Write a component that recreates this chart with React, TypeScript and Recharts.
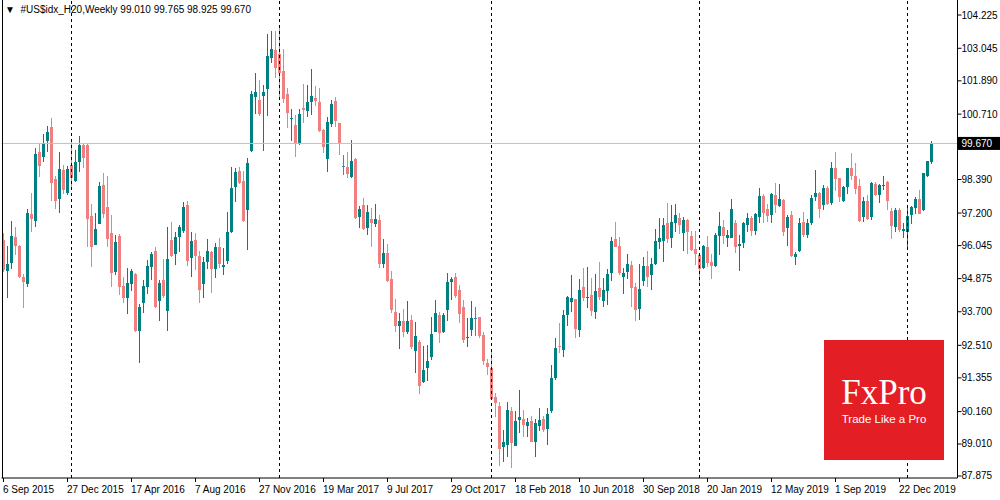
import { ComposedChart, Bar, XAxis, YAxis, ReferenceLine } from 'recharts'

// weekly candles, [open, high, low, close]
const CANDLES_2015 = [
  [96.25, 96.48, 95.12, 95.18], [95.16, 96.03, 94.2, 95.39], [95.42, 96.92, 95.2, 96.39], [96.36, 96.72, 95.71, 96.04],
  [96.04, 96.06, 94.89, 94.94], [94.94, 95.04, 93.85, 94.77], [94.7, 97.36, 94.59, 97.19], [97.17, 97.91, 96.52, 97.0],
  [96.93, 99.5, 96.72, 99.3], [99.37, 99.64, 98.49, 98.88], [99.2, 100.0, 99.02, 99.7], [99.77, 100.29, 99.38, 100.08],
  [100.25, 100.57, 97.63, 98.28], [98.41, 98.52, 97.33, 97.64], [97.71, 99.37, 97.21, 98.76], [98.73, 98.89, 97.86, 98.02],
  [97.92, 98.88, 97.84, 98.76],
]
const CANDLES_2016 = [
  [98.89, 99.79, 98.11, 98.43], [98.35, 99.44, 98.31, 99.01], [99.02, 99.93, 98.67, 99.61], [99.61, 99.64, 98.79, 99.14],
  [99.61, 99.64, 96.01, 96.98], [97.1, 97.52, 95.28, 95.99], [96.08, 97.19, 96.05, 96.64], [96.82, 98.3, 96.8, 98.16],
  [98.2, 98.61, 97.01, 97.18], [97.4, 98.52, 95.99, 96.27], [96.51, 97.13, 94.59, 95.06], [95.1, 96.42, 95.0, 96.16],
  [96.39, 96.46, 94.31, 94.59], [94.61, 94.94, 94.02, 94.2], [94.2, 95.26, 93.63, 94.71], [94.67, 95.2, 94.45, 95.15],
  [95.04, 95.09, 92.99, 93.02], [93.01, 93.96, 91.89, 93.87], [94.0, 94.83, 93.67, 94.61], [94.57, 95.54, 94.33, 95.32],
  [95.3, 95.81, 94.83, 95.75], [95.87, 96.01, 93.82, 93.88], [94.09, 94.83, 93.38, 94.73], [94.83, 95.58, 94.18, 94.27],
  [93.73, 96.69, 93.03, 95.57], [96.25, 96.9, 95.65, 95.68], [95.74, 96.54, 95.36, 96.34], [96.35, 96.78, 95.83, 96.69],
  [96.58, 97.61, 96.48, 97.43], [97.49, 97.63, 95.32, 95.51], [95.62, 96.52, 94.95, 96.21], [96.25, 96.48, 95.18, 95.68],
  [95.68, 95.87, 94.02, 94.47], [94.69, 95.63, 94.2, 95.47], [95.48, 96.27, 95.21, 95.86], [95.82, 95.87, 94.38, 95.22],
  [95.21, 96.13, 94.89, 95.99], [96.0, 96.3, 95.24, 95.39], [95.3, 95.95, 95.0, 95.37], [95.51, 97.25, 95.39, 96.53],
  [96.54, 98.85, 96.48, 98.1], [98.11, 98.8, 97.6, 98.66], [98.69, 98.85, 98.23, 98.28], [98.34, 98.69, 96.9, 96.92],
  [97.31, 99.17, 95.89, 98.96], [99.4, 101.54, 99.38, 101.42], [101.33, 102.16, 100.71, 101.51], [101.21, 101.92, 100.66, 100.7],
  [101.35, 101.73, 99.41, 101.49], [101.61, 103.55, 100.64, 102.77], [102.71, 103.65, 102.51, 103.03], [102.98, 103.65, 101.98, 102.36],
]
const CANDLES_2017 = [
  [102.84, 103.84, 101.26, 102.16], [102.25, 103.01, 101.09, 101.25], [101.42, 101.62, 100.23, 100.76], [100.54, 100.88, 99.77, 100.56],
  [100.32, 100.68, 99.2, 99.65], [99.65, 100.88, 99.61, 100.7], [100.94, 101.79, 100.38, 100.86], [100.83, 101.74, 100.62, 101.15],
  [101.15, 102.31, 100.68, 101.35], [101.28, 101.7, 101.0, 101.18], [101.14, 101.62, 100.09, 100.12], [100.15, 100.17, 99.34, 99.56],
  [99.13, 100.6, 98.67, 100.43], [100.35, 101.21, 100.24, 101.07], [101.18, 101.31, 100.27, 100.48], [100.4, 100.41, 99.26, 99.64],
  [98.88, 99.26, 98.55, 98.88], [98.82, 99.37, 98.43, 98.59], [98.47, 99.79, 98.43, 99.05], [99.12, 99.14, 96.98, 97.01],
  [97.07, 97.46, 96.68, 97.33], [97.49, 97.72, 96.6, 96.62], [96.68, 97.49, 96.42, 97.24], [96.98, 97.37, 96.01, 96.86],
  [96.81, 97.52, 96.72, 96.98], [96.95, 97.13, 95.24, 95.38], [95.39, 96.27, 95.24, 95.77], [95.77, 96.09, 94.75, 94.8],
  [94.85, 95.16, 93.67, 93.76], [93.69, 94.15, 92.99, 93.21], [93.21, 93.64, 92.38, 93.37], [93.37, 93.8, 92.82, 92.97],
  [92.99, 94.08, 92.91, 93.37], [93.41, 93.59, 92.38, 92.46], [92.32, 93.33, 91.54, 92.84], [92.63, 92.7, 90.78, 91.08],
  [91.22, 92.5, 91.19, 91.64], [91.72, 92.52, 91.26, 91.97], [92.11, 93.51, 91.99, 92.91], [92.99, 94.11, 92.97, 93.66],
  [93.59, 93.7, 92.6, 92.94], [92.97, 93.64, 92.94, 93.59], [93.76, 95.06, 93.38, 94.77], [94.77, 94.92, 94.12, 94.86],
  [94.93, 95.09, 94.18, 94.27], [94.47, 94.65, 93.29, 93.61], [93.87, 94.12, 92.58, 92.7], [92.78, 93.48, 92.44, 92.8],
  [93.05, 94.08, 92.84, 93.47], [93.49, 93.86, 92.84, 93.49], [93.5, 93.52, 92.76, 92.85], [92.88, 92.99, 91.81, 91.97],
  [91.89, 92.03, 91.46, 91.73],
]
const CANDLES_2018 = [
  [91.69, 92.38, 90.6, 90.61], [90.68, 90.81, 89.98, 90.45], [90.36, 90.51, 88.23, 88.83], [88.92, 89.51, 88.38, 89.07],
  [88.97, 90.49, 88.56, 90.22], [90.19, 90.33, 88.17, 89.03], [88.95, 90.19, 88.94, 89.83], [89.86, 90.93, 89.41, 89.98],
  [89.9, 90.22, 89.27, 89.68], [89.65, 89.94, 89.27, 89.79], [89.84, 90.02, 89.07, 89.08], [89.08, 89.9, 88.54, 89.77],
  [89.65, 90.3, 89.48, 89.86], [89.89, 90.02, 89.45, 89.51], [89.53, 90.3, 88.97, 90.06], [90.19, 91.81, 90.1, 91.35],
  [91.36, 92.77, 91.28, 92.41], [92.5, 93.3, 92.25, 92.46], [92.34, 93.76, 92.11, 93.59], [93.59, 94.26, 93.2, 94.22],
  [94.03, 95.0, 93.7, 94.18], [94.14, 94.16, 92.78, 93.09], [93.05, 94.85, 92.82, 94.47], [94.57, 95.25, 94.09, 94.19],
  [94.2, 95.28, 93.83, 94.22], [94.28, 94.9, 93.55, 93.73], [93.69, 95.04, 93.46, 94.44], [94.54, 95.47, 94.12, 94.24],
  [94.08, 94.89, 93.88, 94.47], [94.45, 95.23, 93.94, 95.04], [95.09, 96.34, 94.8, 96.21], [96.28, 96.88, 95.99, 96.01],
  [96.03, 96.34, 94.99, 95.09], [94.95, 95.25, 94.33, 95.06], [95.12, 95.74, 94.85, 95.39], [95.36, 95.51, 93.88, 94.56],
  [94.57, 94.73, 93.37, 93.76], [93.81, 95.39, 93.41, 94.51], [94.78, 95.65, 94.61, 95.32], [95.32, 95.86, 94.59, 94.95],
  [95.02, 95.62, 94.47, 95.39], [95.39, 96.65, 95.37, 96.21], [96.19, 97.01, 95.91, 96.33], [96.22, 97.01, 95.48, 96.79],
  [96.86, 97.57, 96.13, 96.28], [96.33, 97.49, 95.97, 96.88], [96.86, 97.51, 96.52, 97.13], [97.01, 97.21, 96.45, 96.79],
  [96.48, 97.07, 95.86, 96.95], [96.95, 96.98, 95.75, 96.54], [96.39, 96.56, 95.86, 95.89], [95.93, 96.56, 95.36, 95.75],
]
const CANDLES_2019 = [
  [95.71, 95.73, 94.61, 95.22], [95.26, 96.07, 95.21, 96.03], [95.99, 96.39, 95.3, 95.44], [95.47, 95.74, 94.87, 95.32],
  [95.32, 96.51, 95.3, 96.42], [96.4, 97.24, 95.71, 96.74], [96.72, 96.96, 96.12, 96.4], [96.33, 96.59, 95.99, 96.42],
  [96.33, 97.7, 96.3, 97.33], [96.86, 96.96, 95.8, 96.01], [96.04, 96.42, 95.16, 96.1], [96.15, 96.9, 95.97, 96.86],
  [96.78, 97.19, 96.54, 97.03], [97.04, 97.1, 96.39, 96.56], [96.56, 97.19, 96.41, 97.16], [97.07, 98.09, 96.84, 97.81],
  [97.82, 97.88, 96.86, 97.21], [97.36, 97.52, 96.9, 97.1], [97.12, 97.9, 96.84, 97.88], [97.84, 98.26, 97.19, 97.47],
  [97.45, 98.23, 97.43, 97.7], [97.66, 97.69, 96.4, 96.54], [96.67, 97.13, 96.03, 97.05], [97.14, 97.27, 95.65, 95.69],
  [95.63, 95.83, 95.36, 95.75], [95.87, 97.04, 95.83, 96.85], [96.88, 97.24, 96.34, 96.42], [96.43, 97.0, 96.33, 96.85],
  [96.84, 97.84, 96.78, 97.75], [97.76, 98.73, 97.64, 97.9], [97.92, 97.94, 97.01, 97.36], [97.49, 98.18, 97.31, 98.09],
  [98.09, 98.16, 97.49, 97.53], [97.55, 99.01, 97.49, 98.8], [98.8, 99.37, 97.98, 98.4], [98.44, 98.46, 97.61, 97.78],
  [97.63, 98.16, 97.59, 98.13], [98.13, 98.81, 97.88, 98.8], [98.8, 99.32, 98.37, 98.52], [98.52, 98.96, 97.88, 98.04],
  [98.16, 98.4, 96.9, 96.92], [97.07, 97.76, 96.9, 97.63], [97.63, 97.84, 96.95, 97.0], [97.07, 98.3, 96.95, 98.26],
  [98.22, 98.31, 97.82, 97.84], [97.84, 98.22, 97.57, 98.2], [98.16, 98.52, 98.02, 98.2], [98.29, 98.34, 97.31, 97.64],
  [97.27, 97.37, 96.28, 96.74], [96.72, 97.37, 96.52, 97.31], [97.31, 97.39, 96.52, 96.6], [96.58, 96.84, 96.3, 96.65],
]
const CANDLES_2020 = [
  [96.54, 97.43, 96.0, 97.1], [97.13, 97.45, 96.8, 97.4], [97.39, 97.76, 97.17, 97.7], [97.69, 98.02, 97.15, 97.17],
  [97.31, 98.63, 97.29, 98.61], [98.52, 99.06, 98.49, 99.03], [99.01, 99.765, 98.925, 99.67],
]

const FLAT_BARS = [85, 118] // open == close, drawn in the line colour
const YEAR_STARTS = [17, 69, 122, 174, 226]
const X_LABELS = [
  '6 Sep 2015', '27 Dec 2015', '17 Apr 2016', '7 Aug 2016', '27 Nov 2016', '19 Mar 2017', '9 Jul 2017', '29 Oct 2017',
  '18 Feb 2018', '10 Jun 2018', '30 Sep 2018', '20 Jan 2019', '12 May 2019', '1 Sep 2019', '22 Dec 2019',
]
const PRICE_TICKS = [104.225, 103.045, 101.89, 100.71, 99.67, 98.39, 97.2, 96.045, 94.875, 93.7, 92.51, 91.355, 90.16, 89.01, 87.875]
const LAST_PRICE = 99.67
const EMPTY_BARS = 6

const candles = [...CANDLES_2015, ...CANDLES_2016, ...CANDLES_2017, ...CANDLES_2018, ...CANDLES_2019, ...CANDLES_2020].map(
  ([open, high, low, close], i) => ({ i, open, high, low, close })
)
const data: any[] = [...candles]
for (let k = 0; k < EMPTY_BARS; k++) data.push({ i: candles.length + k })

const FONT = "'Liberation Sans', Arial, sans-serif"
const UP = '#008080'
const DOWN = '#f08080'

function Candle(props: any) {
  const { x, width, y, height, payload } = props
  if (!payload || payload.high == null || height == null) return null
  const { open, high, low, close, i } = payload
  const top = Math.min(y, y + height)
  const h = Math.abs(height)
  const py = (v: number) => top + ((high - v) / (high - low)) * h
  const cx = Math.floor(x + width / 2)
  const color = FLAT_BARS.includes(i) ? '#4682b4' : close >= open ? UP : DOWN
  const bTop = Math.round(py(Math.max(open, close)))
  const bBot = Math.round(py(Math.min(open, close)))
  const wTop = Math.round(top)
  const wBot = Math.round(top + h)
  return (
    <g>
      <rect x={cx} y={wTop} width={1} height={Math.max(1, wBot - wTop)} fill={color} />
      <rect x={cx - 1} y={bTop} width={3} height={Math.max(1, bBot - bTop)} fill={color} />
    </g>
  )
}

function TimeTick(props: any) {
  const { x, y, payload } = props
  const label = X_LABELS[payload.value / 16]
  if (!label) return null
  return (
    <text x={x - 0.5} y={y + 9} fontSize={10} fontFamily={FONT} fill="#000">
      {label}
    </text>
  )
}

function PriceTick(props: any) {
  const { x, y, payload } = props
  if (payload.value === LAST_PRICE) {
    return (
      <g>
        <rect x={958} y={y - 6.5} width={42} height={13} fill="#000" />
        <text x={x} y={y} fontSize={10} fontFamily={FONT} fill="#fff" dominantBaseline="central">
          {payload.value.toFixed(3)}
        </text>
      </g>
    )
  }
  return (
    <text x={x} y={y} fontSize={10} fontFamily={FONT} fill="#000" dominantBaseline="central">
      {payload.value.toFixed(3)}
    </text>
  )
}

export default function App() {
  return (
    <div style={{ position: 'relative', width: 1000, height: 500, background: '#fff' }}>
      <style>{'body{margin:0}'}</style>
      <ComposedChart width={1000} height={500} data={data} margin={{ top: 0, right: 0, bottom: 0, left: 1.5 }}>
        <XAxis
          dataKey="i"
          type="category"
          height={22}
          ticks={X_LABELS.map((_, k) => k * 16)}
          interval={0}
          tickSize={4}
          tickMargin={2}
          axisLine={{ stroke: '#000' }}
          tickLine={{ stroke: '#000' }}
          tick={<TimeTick />}
        />
        <YAxis
          orientation="right"
          width={42.5}
          domain={[87.804, 104.757]}
          allowDataOverflow
          ticks={PRICE_TICKS}
          interval={0}
          tickSize={4}
          tickMargin={0}
          axisLine={{ stroke: '#000' }}
          tickLine={{ stroke: '#000' }}
          tick={<PriceTick />}
        />
        {YEAR_STARTS.map((w) => (
          <ReferenceLine key={w} x={w} stroke="#000" strokeDasharray="3 3" />
        ))}
        <ReferenceLine y={LAST_PRICE} stroke="#c0c0c0" />
        <Bar
          dataKey={(d: any) => (d.high == null ? null : [d.low, d.high])}
          shape={<Candle />}
          isAnimationActive={false}
        />
      </ComposedChart>
      <div style={{ position: 'absolute', left: 2, top: 0, width: 1, height: 478, background: '#000' }} />
      <div
        style={{
          position: 'absolute',
          left: 5,
          top: 3,
          fontFamily: FONT,
          fontSize: 10,
          color: '#000',
          whiteSpace: 'pre',
          lineHeight: '14px',
        }}
      >
        {'\u25BC  #US$idx_H20,Weekly 99.010 99.765 98.925 99.670'}
      </div>
      <div
        style={{
          position: 'absolute',
          left: 824,
          top: 340,
          width: 120,
          height: 120,
          background: '#e31e24',
          color: '#fff',
          textAlign: 'center',
        }}
      >
        <div style={{ fontFamily: "'Liberation Serif', serif", fontSize: 35, lineHeight: '34px', marginTop: 36 }}>FxPro</div>
        <div style={{ fontFamily: FONT, fontSize: 11.5, lineHeight: '14px', marginTop: 2 }}>Trade Like a Pro</div>
      </div>
    </div>
  )
}
